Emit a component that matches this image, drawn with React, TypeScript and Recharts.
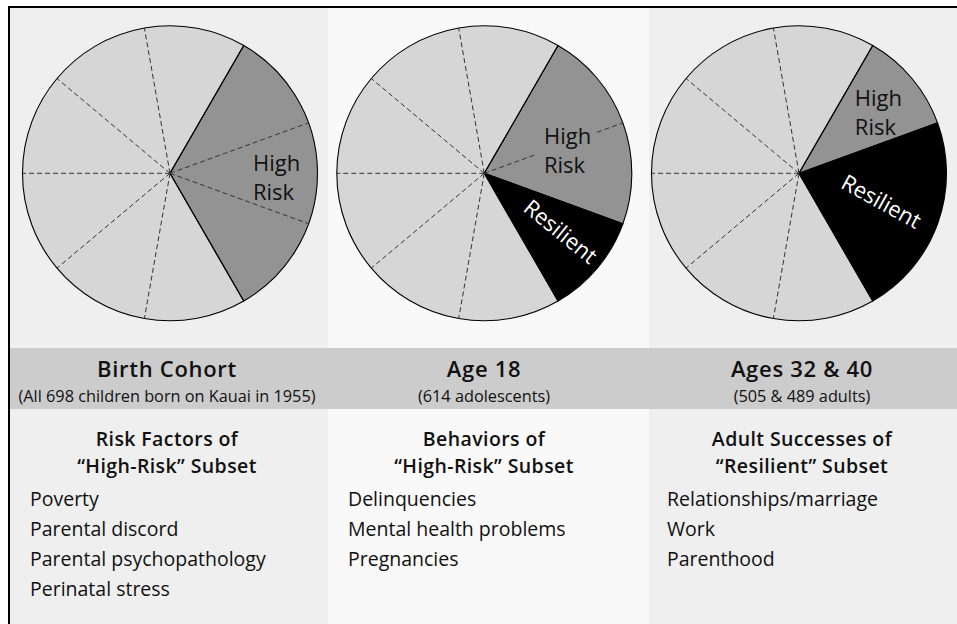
import React from 'react'
import { PieChart, Pie, Cell } from 'recharts'

const FONT = '"Open Sans", "Noto Sans", sans-serif'
const RAD = Math.PI / 180

// headings and lists
const panelTitles = ['Birth Cohort', 'Age 18', 'Ages 32 & 40']
const panelSubtitles = ['(All 698 children born on Kauai in 1955)', '(614 adolescents)', '(505 & 489 adults)']
const listHeadings = [
  ['Risk Factors of', '“High-Risk” Subset'],
  ['Behaviors of', '“High-Risk” Subset'],
  ['Adult Successes of', '“Resilient” Subset'],
]
const riskFactors = ['Poverty', 'Parental discord', 'Parental psychopathology', 'Perinatal stress']
const behaviors = ['Delinquencies', 'Mental health problems', 'Pregnancies']
const successes = ['Relationships/marriage', 'Work', 'Parenthood']

// each pie is cut in ninths; values are counts of ninths
const birthCohort = [
  { name: 'High Risk', value: 3 },
  { name: 'Other', value: 6 },
]
const age18 = [
  { name: 'High Risk', value: 2 },
  { name: 'Resilient', value: 1 },
  { name: 'Other', value: 6 },
]
const adults = [
  { name: 'High Risk', value: 1 },
  { name: 'Resilient', value: 2 },
  { name: 'Other', value: 6 },
]
const wedges = [1, 1, 1, 1, 1, 1, 1, 1, 1]

const groupColors: Record<string, string> = {
  'High Risk': '#939393',
  Resilient: '#000000',
  Other: '#d6d6d6',
}

const pieSlices = [birthCohort, age18, adults]
const listItems = [riskFactors, behaviors, successes]

const layout = [
  { left: 10, width: 318, bg: '#efefef', cx: 170, textX: 167, listX: 30 },
  { left: 328, width: 321, bg: '#f9f9f9', cx: 484.3, textX: 484, listX: 348 },
  { left: 649, width: 308, bg: '#efefef', cx: 799, textX: 802, listX: 667 },
]
const labelTweaks = [
  { hrR: 106, hrDA: -2, reR: 0, reDA: 0, reRot: 0, knockout: false },
  { hrR: 86, hrDA: -4, reR: 96, reDA: -2, reRot: 39, knockout: true },
  { hrR: 100, hrDA: -2, reR: 86, reDA: -4, reRot: 29, knockout: false },
]

const CY = 173.3
const R = 147.5

function groupAt(slices: { name: string; value: number }[], i: number) {
  let acc = 0
  for (const s of slices) {
    acc += s.value
    if (i < acc) return s.name
  }
  return slices[slices.length - 1].name
}

const wedgeLine = (panel: number) => (props: any) => {
  const { cx, cy, startAngle, outerRadius, index } = props
  const slices = pieSlices[panel]
  const g = groupAt(slices, index)
  const prev = groupAt(slices, (index + wedges.length - 1) % wedges.length)
  if (g !== prev || g === 'Resilient') return null
  const a = startAngle * RAD
  return (
    <line
      key={`w-${panel}-${index}`}
      x1={cx}
      y1={cy}
      x2={cx + outerRadius * Math.cos(a)}
      y2={cy - outerRadius * Math.sin(a)}
      stroke="#333"
      strokeWidth={1}
      strokeDasharray="5 3"
    />
  )
}

const groupLabel = (panel: number) => (props: any) => {
  const { cx, cy, midAngle, index } = props
  const name = pieSlices[panel][index].name
  const t = labelTweaks[panel]
  if (name === 'High Risk') {
    const a = (midAngle + t.hrDA) * RAD
    const bx = cx + t.hrR * Math.cos(a)
    const by = cy - t.hrR * Math.sin(a)
    return (
      <g key={`hr-${panel}`}>
        {t.knockout && <rect x={bx - 32} y={by - 26} width={61} height={52} fill={groupColors['High Risk']} />}
        <text x={bx - 23} y={by - 6} fontSize={22} fill="#111" fontFamily={FONT}>
          <tspan x={bx - 23} y={by - 6}>High</tspan>
          <tspan x={bx - 23} y={by + 23}>Risk</tspan>
        </text>
      </g>
    )
  }
  if (name === 'Resilient') {
    const a = (midAngle + t.reDA) * RAD
    const x = cx + t.reR * Math.cos(a)
    const y = cy - t.reR * Math.sin(a)
    return (
      <text
        key={`re-${panel}`}
        x={x}
        y={y}
        textAnchor="middle"
        fontSize={22}
        fill="#fff"
        fontFamily={FONT}
        transform={`rotate(${t.reRot} ${x} ${y})`}
      >
        Resilient
      </text>
    )
  }
  return null
}

export default function App() {
  const wedgeData = wedges.map((v) => ({ value: v }))
  return (
    <div style={{ position: 'absolute', left: 0, top: 0, width: 957, height: 624, overflow: 'hidden', background: '#fff' }}>
      {layout.map((p, i) => (
        <div key={i} style={{ position: 'absolute', left: p.left, top: 8, width: p.width, height: 616, background: p.bg }} />
      ))}
      <div style={{ position: 'absolute', left: 10, top: 348, width: 947, height: 61, background: '#cccccc' }} />
      <div style={{ position: 'absolute', left: 8, top: 6, width: 949, height: 2, background: '#000' }} />
      <div style={{ position: 'absolute', left: 8, top: 6, width: 2, height: 618, background: '#000' }} />

      <div style={{ position: 'absolute', left: 0, top: 0 }}>
        <PieChart width={957} height={330} margin={{ top: 0, right: 0, bottom: 0, left: 0 }}>
          {layout.map((p, i) => (
            <Pie
              key={`fill-${i}`}
              data={pieSlices[i]}
              dataKey="value"
              cx={p.cx}
              cy={CY}
              outerRadius={R}
              startAngle={60}
              endAngle={-300}
              stroke="none"
              isAnimationActive={false}
            >
              {pieSlices[i].map((s) => (
                <Cell key={s.name} fill={groupColors[s.name]} />
              ))}
            </Pie>
          ))}
          {layout.map((p, i) => (
            <Pie
              key={`wedge-${i}`}
              data={wedgeData}
              dataKey="value"
              cx={p.cx}
              cy={CY}
              outerRadius={R}
              startAngle={60}
              endAngle={-300}
              fill="none"
              stroke="none"
              label={wedgeLine(i)}
              labelLine={false}
              isAnimationActive={false}
            />
          ))}
          {layout.map((p, i) => (
            <Pie
              key={`edge-${i}`}
              data={pieSlices[i]}
              dataKey="value"
              cx={p.cx}
              cy={CY}
              outerRadius={R}
              startAngle={60}
              endAngle={-300}
              fill="none"
              stroke="#000"
              strokeWidth={1.1}
              label={groupLabel(i)}
              labelLine={false}
              isAnimationActive={false}
            />
          ))}
        </PieChart>
      </div>

      <svg width={957} height={624} style={{ position: 'absolute', left: 0, top: 0 }} fontFamily={FONT}>
        {layout.map((p, i) => (
          <g key={i} fill="#111">
            <text x={p.textX} y={377} textAnchor="middle" fontSize={22} fontWeight={600} letterSpacing={0.7}>
              {panelTitles[i]}
            </text>
            <text x={p.textX} y={401.5} textAnchor="middle" fontSize={16.3}>
              {panelSubtitles[i]}
            </text>
            {listHeadings[i].map((h, j) => (
              <text key={j} x={p.textX} y={445.5 + j * 27} textAnchor="middle" fontSize={19.5} fontWeight={600} letterSpacing={0.4}>
                {h}
              </text>
            ))}
            {listItems[i].map((item, j) => (
              <text key={j} x={p.listX} y={505.5 + j * 30.2} fontSize={19.5}>
                {item}
              </text>
            ))}
          </g>
        ))}
      </svg>
    </div>
  )
}
